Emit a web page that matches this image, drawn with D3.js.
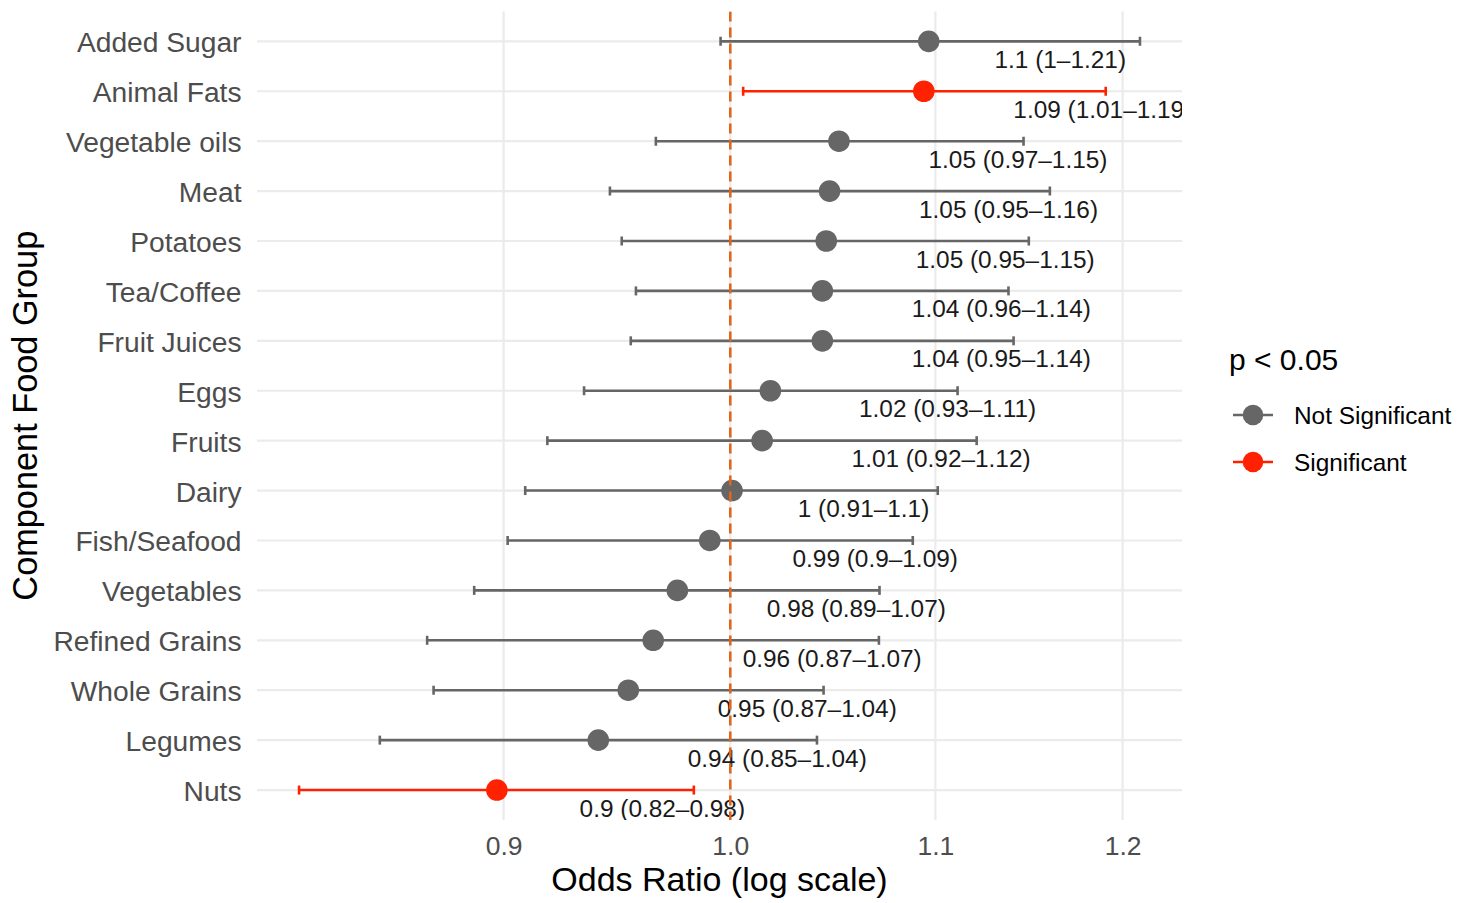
<!DOCTYPE html>
<html>
<head>
<meta charset="utf-8">
<script src="https://cdn.jsdelivr.net/npm/d3@7"></script>
<style>
  html, body { margin: 0; padding: 0; background: #ffffff; }
  svg { display: block; font-family: "Liberation Sans", Arial, Helvetica, sans-serif; }
</style>
</head>
<body>
<svg id="chart" width="1471" height="903"></svg>
<script>
// ---- data ----
const categories = ["Added Sugar","Animal Fats","Vegetable oils","Meat","Potatoes","Tea/Coffee","Fruit Juices","Eggs","Fruits","Dairy","Fish/Seafood","Vegetables","Refined Grains","Whole Grains","Legumes","Nuts"];
const oddsRatio = [1.0966,1.0941,1.0518,1.0472,1.0456,1.0437,1.0437,1.0188,1.0149,1.0008,0.9905,0.9757,0.9648,0.9537,0.9405,0.8972];
const lowerCI  = [0.9955,1.0060,0.9660,0.9456,0.9508,0.9571,0.9548,0.9343,0.9185,0.9091,0.9017,0.8878,0.8686,0.8712,0.8497,0.8184];
const upperCI  = [1.2097,1.1906,1.1460,1.1601,1.1488,1.1380,1.1407,1.1114,1.1213,1.1012,1.0885,1.0718,1.0715,1.0443,1.0411,0.9832];
const significance = ["Not Significant","Significant","Not Significant","Not Significant","Not Significant","Not Significant","Not Significant","Not Significant","Not Significant","Not Significant","Not Significant","Not Significant","Not Significant","Not Significant","Not Significant","Significant"];
const xTicks = [0.9, 1.0, 1.1, 1.2];
const legendLevels = ["Not Significant","Significant"];
const legendTitle = "p < 0.05";
const xTitle = "Odds Ratio (log scale)";
const yTitle = "Component Food Group";

const rows = categories.map((c, i) => ({cat: c, or: oddsRatio[i], lo: lowerCI[i], hi: upperCI[i], sig: significance[i]}));

// ---- layout ----
const panel = {left: 257, right: 1182, top: 11.4, bottom: 820};
const color = d3.scaleOrdinal().domain(legendLevels).range(["#666666", "#ff2200"]);

const lmin = Math.log(d3.min(lowerCI)), lmax = Math.log(d3.max(upperCI));
const pad = (lmax - lmin) * 0.05;
const x = d3.scaleLog().domain([Math.exp(lmin - pad), Math.exp(lmax + pad)]).range([panel.left, panel.right]);
const y = d3.scalePoint().domain(categories).range([panel.top, panel.bottom]).padding(0.6);

const fmt = v => String(Math.round(v * 100) / 100);

const svg = d3.select("#chart");
svg.append("rect").attr("width", 1471).attr("height", 903).attr("fill", "#ffffff");

svg.append("defs").append("clipPath").attr("id", "panelClip")
  .append("rect").attr("x", panel.left).attr("y", panel.top)
  .attr("width", panel.right - panel.left).attr("height", panel.bottom - panel.top);

// grid
const grid = svg.append("g");
grid.selectAll("line.h").data(categories).join("line")
  .attr("x1", panel.left).attr("x2", panel.right)
  .attr("y1", d => y(d)).attr("y2", d => y(d))
  .attr("stroke", "#ebebeb").attr("stroke-width", 2.2);
grid.selectAll("line.v").data(xTicks).join("line")
  .attr("x1", d => x(d)).attr("x2", d => x(d))
  .attr("y1", panel.top).attr("y2", panel.bottom)
  .attr("stroke", "#ebebeb").attr("stroke-width", 2.2);

// axes (labels only, no lines)
const xAxis = d3.axisBottom(x).tickValues(xTicks).tickFormat(d3.format(".1f")).tickSize(0).tickPadding(0);
const gx = svg.append("g").attr("transform", `translate(0,${panel.bottom})`).call(xAxis);
gx.select(".domain").remove();
gx.selectAll("text").attr("font-size", 26.5).attr("fill", "#4d4d4d")
  .attr("font-family", "Liberation Sans, Arial, sans-serif")
  .attr("dy", null).attr("y", 35);

const yAxis = d3.axisLeft(y).tickSize(0).tickPadding(0);
const gy = svg.append("g").attr("transform", `translate(${panel.left - 15.5},0)`).call(yAxis);
gy.select(".domain").remove();
gy.selectAll("text").attr("font-size", 28.2).attr("fill", "#4d4d4d")
  .attr("font-family", "Liberation Sans, Arial, sans-serif")
  .attr("dy", null).attr("dominant-baseline", "auto").attr("transform", "translate(0,10.5)");

// plotted layers
const plot = svg.append("g").attr("clip-path", "url(#panelClip)");

const eb = plot.append("g").selectAll("g").data(rows).join("g")
  .attr("stroke", d => color(d.sig)).attr("stroke-width", 2.6);
eb.append("line").attr("x1", d => x(d.lo)).attr("x2", d => x(d.hi))
  .attr("y1", d => y(d.cat)).attr("y2", d => y(d.cat));
eb.append("line").attr("x1", d => x(d.lo)).attr("x2", d => x(d.lo))
  .attr("y1", d => y(d.cat) - 4.5).attr("y2", d => y(d.cat) + 4.5);
eb.append("line").attr("x1", d => x(d.hi)).attr("x2", d => x(d.hi))
  .attr("y1", d => y(d.cat) - 4.5).attr("y2", d => y(d.cat) + 4.5);

plot.append("g").selectAll("circle").data(rows).join("circle")
  .attr("cx", d => x(d.or)).attr("cy", d => y(d.cat)).attr("r", 10.8)
  .attr("fill", d => color(d.sig));

const labels = plot.append("g").selectAll("text").data(rows).join("text")
  .attr("font-size", 24.4).attr("fill", "#1a1a1a")
  .attr("y", d => y(d.cat) + 26.5)
  .text(d => `${fmt(d.or)} (${fmt(d.lo)}–${fmt(d.hi)})`);
labels.each(function(d) {
  const w = this.getComputedTextLength();
  d3.select(this).attr("x", x(d.or) + 0.5 * w);
});

// reference line at OR = 1
plot.append("line").attr("x1", x(1)).attr("x2", x(1))
  .attr("y1", panel.top).attr("y2", panel.bottom)
  .attr("stroke", "#e0661c").attr("stroke-width", 2.6)
  .attr("stroke-dasharray", "10,6");

// axis titles
svg.append("text").attr("x", (panel.left + panel.right) / 2).attr("y", 891)
  .attr("text-anchor", "middle").attr("font-size", 34).attr("fill", "#000")
  .text(xTitle);
svg.append("text").attr("transform", `translate(37,${(panel.top + panel.bottom) / 2}) rotate(-90)`)
  .attr("text-anchor", "middle").attr("font-size", 34.3).attr("fill", "#000")
  .text(yTitle);

// legend
const lg = svg.append("g");
lg.append("text").attr("x", 1229).attr("y", 370).attr("font-size", 30).attr("fill", "#000").text(legendTitle);
const items = lg.selectAll("g.item").data(legendLevels).join("g")
  .attr("transform", (d, i) => `translate(1253,${415 + i * 47})`);
items.append("line").attr("x1", -20).attr("x2", 20).attr("y1", 0).attr("y2", 0)
  .attr("stroke", d => color(d)).attr("stroke-width", 2.6);
items.append("circle").attr("r", 10.3).attr("fill", d => color(d));
items.append("text").attr("x", 41).attr("y", 8.6).attr("font-size", 24.4).attr("fill", "#000").text(d => d);
</script>
</body>
</html>
